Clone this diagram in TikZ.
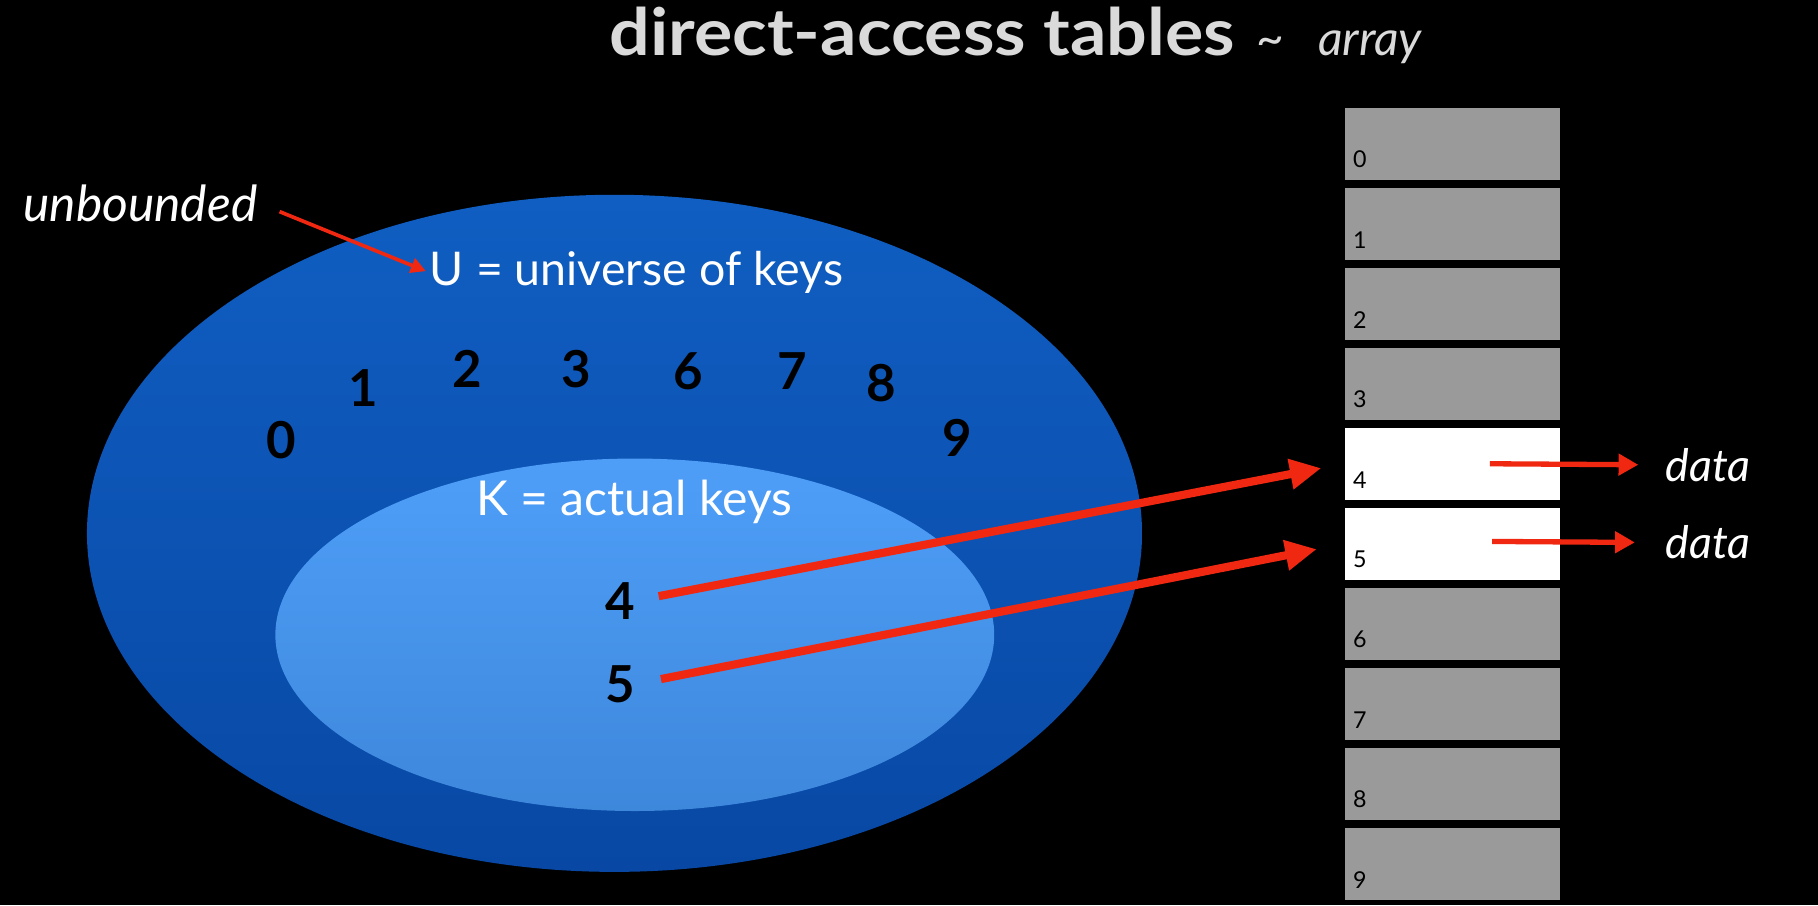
\documentclass[tikz,border=0pt]{standalone}
\usepackage{fontspec}
\setmainfont{Lato}
\newfontfamily\titlefont{Lato}[FakeStretch=1.1]
\usetikzlibrary{arrows.meta}
\definecolor{ublue}{RGB}{16,94,194}
\definecolor{ubluedark}{RGB}{8,72,164}
\definecolor{kblue}{RGB}{78,158,248}
\definecolor{kbluedark}{RGB}{62,136,220}
\definecolor{cellgray}{RGB}{154,154,154}
\definecolor{keyred}{RGB}{240,40,18}
\definecolor{titlegray}{RGB}{218,218,218}

\begin{document}
\begin{tikzpicture}[x=0.01cm,y=-0.01cm,
        txt/.style={inner sep=0pt,text=white},
        keynum/.style={inner sep=0pt,text=black,font=\fontsize{12.5}{14}\selectfont\bfseries},
        cell/.style={inner sep=0pt,minimum width=1.85cm,minimum height=0.62cm},
        cellnum/.style={inner sep=0pt,anchor=south west,font=\fontsize{5.7}{6}\selectfont},
        keyarrow/.style={keyred,line width=2pt,-{Triangle[length=0.27cm,width=0.25cm]}},
        dataarrow/.style={keyred,line width=1.3pt,-{Triangle[length=0.17cm,width=0.18cm]}}]
        \useasboundingbox (0,0) rectangle (1568,780.6);
        \fill[black] (0,0) rectangle (1568,780.6);
        \node[txt,anchor=base west,text=titlegray,font=\titlefont\fontsize{16}{18}\selectfont\bfseries] (title) at (525,48) {direct-access tables};
        \node[txt,anchor=base west,text=titlegray,font=\fontsize{11.8}{13}\selectfont\itshape] (tarray) at (1083,48) {\textasciitilde\hspace{0.7em}array};
        \shade[top color=ublue,bottom color=ubluedark] (530,460) ellipse [x radius=455,y radius=292];
        \shade[top color=kblue,bottom color=kbluedark] (547.5,547.5) ellipse [x radius=310,y radius=152];
        \node[txt,font=\fontsize{12.2}{14}\selectfont\itshape] (unb) at (121,175) {unbounded};
        \node[txt,font=\fontsize{11.4}{14}\selectfont] (univ) at (549,235) {U = universe of keys};
        \node[txt,font=\fontsize{11.8}{14}\selectfont] (act) at (547,433) {K = actual keys};
        \draw[keyred,line width=0.9pt,-{Triangle[length=0.13cm,width=0.13cm]},shorten <=0.2cm,shorten >=0.03cm] (unb.east) -- (univ.west);
        \foreach \k/\x/\y in {0/243/380,1/313/335,2/403/318,3/497/318,6/594/320,7/683/320,8/760/330,9/826/378,4/535/518,5/535/590}
                \node[keynum] (k\k) at (\x,\y) {\k};
        \foreach \i/\f in {0/cellgray,1/cellgray,2/cellgray,3/cellgray,4/white,5/white,6/cellgray,7/cellgray,8/cellgray,9/cellgray} {
                \node[cell,fill=\f] (c\i) at (1252.5,{124+69*\i}) {};
                \node[cellnum] (l\i) at ([xshift=0.07cm,yshift=0.1cm]c\i.south west) {\i};
        }
        \draw[keyarrow,shorten <=0.2cm,shorten >=0.2cm] (k4.east) -- (c4.west);
        \draw[keyarrow,shorten <=0.22cm,shorten >=0.24cm] (k5.east) -- (c5.west);
        \coordinate (p4) at (1285,400);
        \coordinate (p5) at (1287,467);
        \node[txt,anchor=west,font=\fontsize{11}{13}\selectfont\itshape] (data4) at (1436,401) {data};
        \node[txt,anchor=west,font=\fontsize{11}{13}\selectfont\itshape] (data5) at (1436,468) {data};
        \draw[dataarrow,shorten >=0.23cm] (p4) -- (data4.west);
        \draw[dataarrow,shorten >=0.26cm] (p5) -- (data5.west);
\end{tikzpicture}
\end{document}
